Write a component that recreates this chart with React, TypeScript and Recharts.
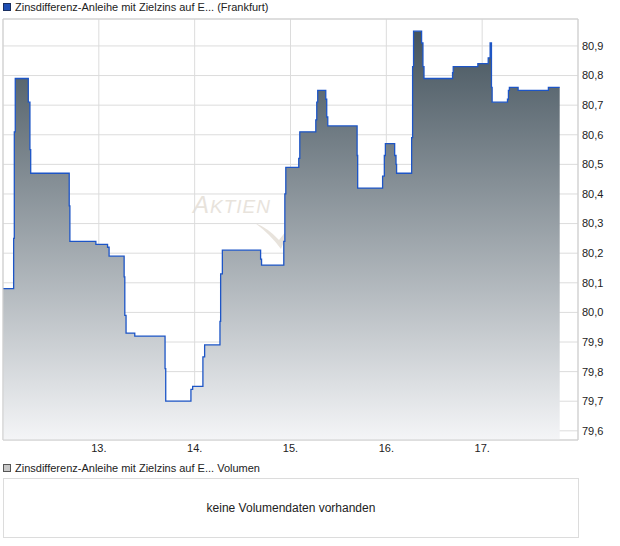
import { AreaChart, Area, XAxis, YAxis, CartesianGrid, ReferenceLine } from "recharts"

// Quote times (day of month, fractional) and prices (Frankfurt)
const times = [
  12.0, 12.111, 12.118, 12.128, 12.264, 12.281, 12.289, 12.691, 12.698, 12.969,
  13.091, 13.107, 13.264, 13.271, 13.284, 13.375, 13.691, 13.698, 13.961, 13.979,
  14.086, 14.104, 14.264, 14.271, 14.289, 14.688, 14.698, 14.93, 14.941, 14.951,
  15.086, 15.097, 15.264, 15.274, 15.284, 15.368, 15.378, 15.389, 15.695, 15.701,
  15.961, 15.979, 15.99, 16.087, 16.101, 16.107, 16.264, 16.274, 16.284, 16.368,
  16.382, 16.393, 16.691, 16.698, 16.955, 17.063, 17.083, 17.097, 17.104, 17.264,
  17.274, 17.284, 17.375, 17.691, 17.809,
]
const prices = [
  80.08, 80.25, 80.61, 80.79, 80.71, 80.55, 80.47, 80.36, 80.24, 80.23,
  80.22, 80.19, 80.12, 79.99, 79.93, 79.92, 79.81, 79.7, 79.74, 79.75,
  79.85, 79.89, 79.97, 80.13, 80.21, 80.18, 80.16, 80.24, 80.4, 80.49,
  80.52, 80.61, 80.65, 80.71, 80.75, 80.72, 80.66, 80.63, 80.53, 80.42,
  80.46, 80.53, 80.57, 80.53, 80.5, 80.47, 80.59, 80.83, 80.95, 80.91,
  80.83, 80.79, 80.81, 80.83, 80.84, 80.86, 80.91, 80.76, 80.71, 80.72,
  80.75, 80.76, 80.75, 80.76, 80.76,
]

const dayTicks = [13, 14, 15, 16, 17]
const priceTicks = [79.6, 79.7, 79.8, 79.9, 80.0, 80.1, 80.2, 80.3, 80.4, 80.5, 80.6, 80.7, 80.8, 80.9]

const data = times.map((t, i) => ({ t, price: prices[i] }))

const FONT = "'Liberation Sans', Arial, sans-serif"
const Y_MIN = 79.569
const Y_MAX = 80.991

export default function App() {
  return (
    <div style={{ position: "relative", width: 620, height: 546, fontFamily: FONT, background: "#fff" }}>
      <style>{"body{margin:0}"}</style>

      {/* legend header */}
      <div style={{ position: "absolute", left: 3, top: 1, fontSize: 11, color: "#222", display: "flex", alignItems: "center" }}>
        <span style={{ display: "inline-block", width: 6, height: 6, background: "#1f4fb4", border: "1px solid #1a2f60", marginRight: 4 }} />
        Zinsdifferenz-Anleihe mit Zielzins auf E... (Frankfurt)
      </div>

      {/* watermark */}
      <div style={{ position: "absolute", left: 193, top: 191, color: "#e8e3dc", fontStyle: "italic", letterSpacing: 1 }}>
        <span style={{ fontSize: 24 }}>A</span>
        <span style={{ fontSize: 19 }}>KTIEN</span>
      </div>
      <svg style={{ position: "absolute", left: 0, top: 0 }} width={620} height={460}>
        <path d="M255,223 Q268,228 279,240 L290,226 L281,249 Q270,234 255,223 Z" fill="#e8e3dc" />
      </svg>

      <div style={{ position: "absolute", left: 0, top: 0 }}>
        <AreaChart width={620} height={460} data={data} margin={{ top: 19, right: 0, left: 3, bottom: 0 }}>
          <defs>
            <linearGradient id="priceFill" x1="0" y1="0" x2="0" y2="1">
              <stop offset="0%" stopColor="#44535d" />
              <stop offset="100%" stopColor="#f4f5f7" />
            </linearGradient>
          </defs>
          <CartesianGrid stroke="#dcdcdc" />
          <XAxis
            type="number"
            dataKey="t"
            domain={[12, 18]}
            ticks={dayTicks}
            tickFormatter={(d) => `${d}.`}
            height={20}
            tickLine={false}
            tickSize={0}
            tickMargin={4}
            axisLine={{ stroke: "#cfcfcf" }}
            tick={{ fontSize: 11, fill: "#222", fontFamily: FONT }}
          />
          <YAxis
            orientation="right"
            domain={[Y_MIN, Y_MAX]}
            ticks={priceTicks}
            allowDataOverflow
            width={42}
            tickFormatter={(v) => v.toFixed(1).replace(".", ",")}
            tickLine={false}
            tickSize={0}
            tickMargin={4}
            axisLine={{ stroke: "#cfcfcf" }}
            tick={{ fontSize: 11, fill: "#222", fontFamily: FONT }}
          />
          <ReferenceLine x={12} stroke="#cfcfcf" />
          <ReferenceLine y={Y_MAX} stroke="#cfcfcf" />
          <Area
            type="stepAfter"
            dataKey="price"
            stroke="#1d55c6"
            strokeWidth={1.3}
            fill="url(#priceFill)"
            fillOpacity={1}
            dot={false}
            activeDot={false}
            isAnimationActive={false}
          />
        </AreaChart>
      </div>

      {/* volume panel */}
      <div style={{ position: "absolute", left: 3, top: 462, fontSize: 11, color: "#222", display: "flex", alignItems: "center" }}>
        <span style={{ display: "inline-block", width: 6, height: 6, background: "#c8c8c8", border: "1px solid #555", marginRight: 4 }} />
        Zinsdifferenz-Anleihe mit Zielzins auf E... Volumen
      </div>
      <div
        style={{
          position: "absolute",
          left: 3,
          top: 478,
          width: 574,
          height: 58,
          border: "1px solid #dcdcdc",
          display: "flex",
          alignItems: "center",
          justifyContent: "center",
          fontSize: 12,
          color: "#222",
        }}
      >
        keine Volumendaten vorhanden
      </div>
    </div>
  )
}
